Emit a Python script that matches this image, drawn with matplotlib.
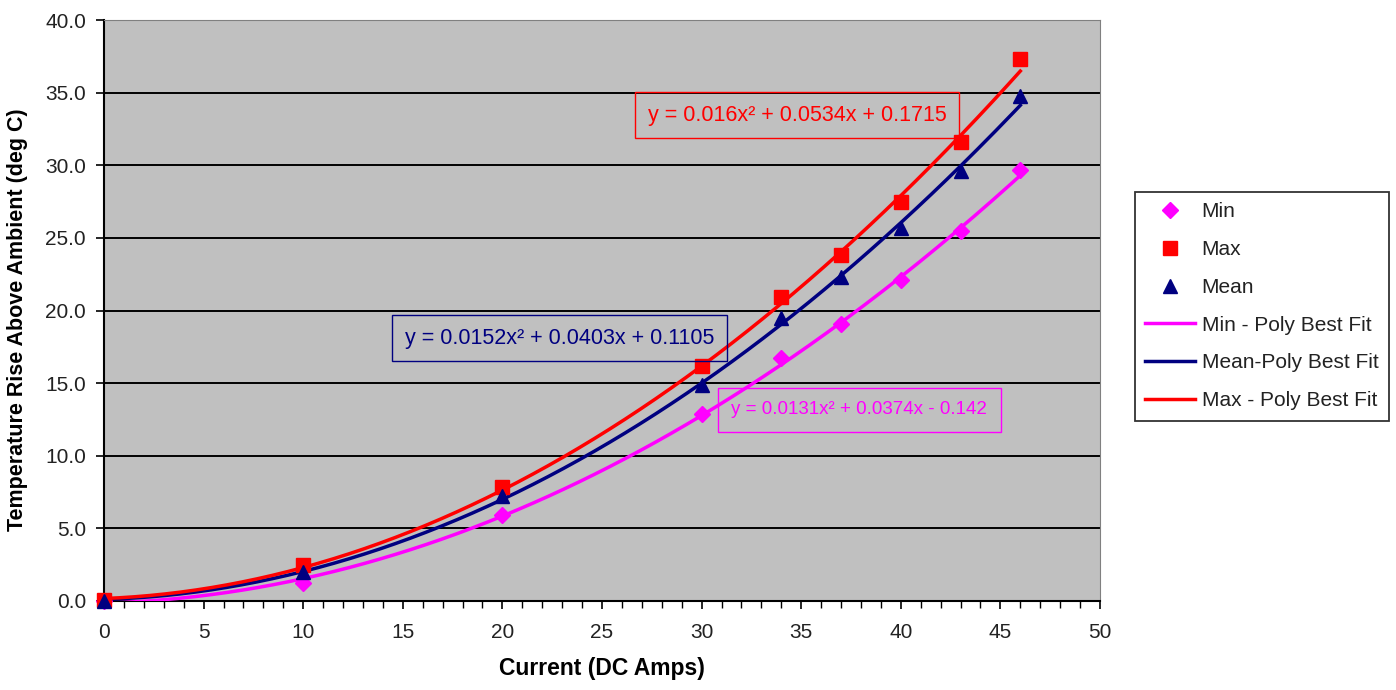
from matplotlib import pyplot as plt
import numpy as np

current = [0, 10, 20, 30, 34, 37, 40, 43, 46]
t_min = [0.0, 1.25, 5.9, 12.9, 16.7, 19.1, 22.1, 25.5, 29.7]
t_max = [0.1, 2.5, 7.85, 16.2, 20.9, 23.8, 27.5, 31.6, 37.3]
t_mean = [0.0, 2.0, 7.2, 14.9, 19.5, 22.3, 25.7, 29.6, 34.8]

# trendline coefficients as shown on the chart (x^2, x, 1)
fit_min = [0.0131, 0.0374, -0.142]
fit_mean = [0.0152, 0.0403, 0.1105]
fit_max = [0.016, 0.0534, 0.1715]

eq_min = 'y = 0.0131x² + 0.0374x - 0.142'
eq_mean = 'y = 0.0152x² + 0.0403x + 0.1105'
eq_max = 'y = 0.016x² + 0.0534x + 0.1715'

MAGENTA = '#FF00FF'
NAVY = '#000080'
RED = '#FF0000'

plt.rcParams['font.family'] = ['Liberation Sans', 'DejaVu Sans']
plt.rcParams['font.size'] = 15
plt.rcParams['text.color'] = '#222222'

fig = plt.figure(figsize=(13.96, 6.9), dpi=100)
ax = fig.add_axes([104 / 1396, 89 / 690, 996 / 1396, 581 / 690])
ax.set_facecolor('#C0C0C0')

xs = np.linspace(0, max(current), 300)

ax.plot(current, t_min, linestyle='none', marker='D', ms=8.5, color=MAGENTA,
        label='Min', zorder=4, clip_on=False)
ax.plot(current, t_max, linestyle='none', marker='s', ms=10, color=RED,
        label='Max', zorder=4, clip_on=False)
ax.plot(current, t_mean, linestyle='none', marker='^', ms=10.5, color=NAVY,
        label='Mean', zorder=4, clip_on=False)
ax.plot(xs, np.polyval(fit_min, xs), color=MAGENTA, lw=2.5,
        label='Min - Poly Best Fit', zorder=3)
ax.plot(xs, np.polyval(fit_mean, xs), color=NAVY, lw=2.5,
        label='Mean-Poly Best Fit', zorder=3)
ax.plot(xs, np.polyval(fit_max, xs), color=RED, lw=2.5,
        label='Max - Poly Best Fit', zorder=3)

ax.set_xlim(0, 50)
ax.set_ylim(0, 40)
ax.set_xticks(np.arange(0, 51, 5))
ax.set_xticks(np.arange(0, 51, 1), minor=True)
ax.set_yticks(np.arange(0, 40.1, 5))
ax.set_yticklabels([f'{v:.1f}' for v in np.arange(0, 40.1, 5)])
ax.tick_params(axis='both', which='major', length=6, width=1.2,
               labelsize=15, color='black', labelcolor='#222222')
ax.tick_params(axis='x', which='major', pad=10)
ax.tick_params(axis='y', which='major', pad=7)
ax.tick_params(axis='x', which='minor', length=5, width=1)
ax.tick_params(axis='y', which='minor', left=False)

ax.yaxis.grid(True, color='black', lw=1.4)
ax.set_axisbelow(True)

for side in ('top', 'right'):
    ax.spines[side].set_color('#808080')
for side in ('left', 'bottom'):
    ax.spines[side].set_color('black')
    ax.spines[side].set_linewidth(1.5)

ax.set_xlabel('Current (DC Amps)', fontsize=16.5, fontweight='bold',
              labelpad=11)
ax.set_ylabel('Temperature Rise Above Ambient (deg C)', fontsize=15.5,
              fontweight='bold')
ax.yaxis.set_label_coords(-0.076, 0.485)

ax.text(27.3, 33.45, eq_max, color=RED, fontsize=15.5, va='center',
        bbox=dict(facecolor='none', edgecolor=RED, lw=1.0, pad=9), zorder=5)
ax.text(15.1, 18.1, eq_mean, color=NAVY, fontsize=15.5, va='center',
        bbox=dict(facecolor='none', edgecolor=NAVY, lw=1.0, pad=9), zorder=5)
ax.text(31.5, 13.15, eq_min, color=MAGENTA, fontsize=13.5, va='center',
        bbox=dict(facecolor='none', edgecolor=MAGENTA, lw=1.0, pad=10),
        zorder=5)

leg = ax.legend(loc='upper left', bbox_to_anchor=(1135 / 1396, 1 - 192 / 690),
                bbox_transform=fig.transFigure, borderaxespad=0, fontsize=15,
                frameon=True, fancybox=False, edgecolor='black',
                handlelength=2.4, handletextpad=0.3, labelspacing=0.9,
                borderpad=0.5)
leg.get_frame().set_linewidth(1.3)

plt.savefig('out.png', dpi=100)
